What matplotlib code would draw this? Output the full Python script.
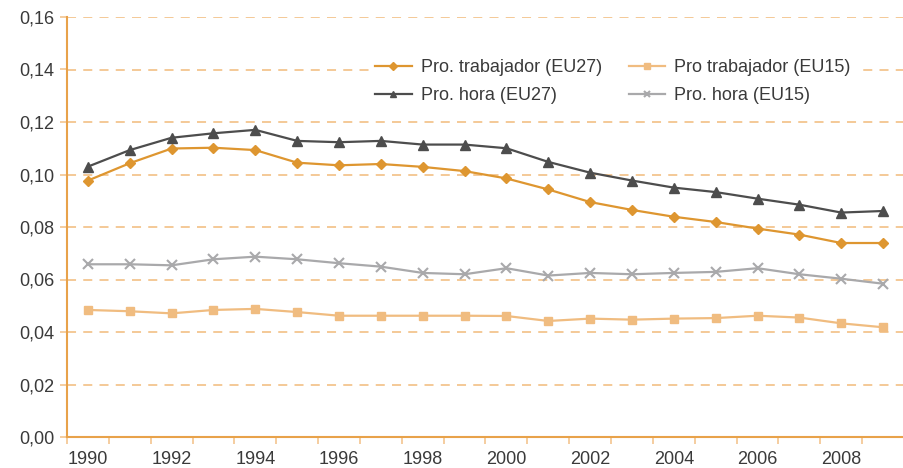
import numpy as np
import matplotlib
matplotlib.use('Agg')
import matplotlib.pyplot as plt
from matplotlib.ticker import FuncFormatter

plt.rcParams['font.family'] = ['Liberation Sans', 'DejaVu Sans']

years = list(range(1990, 2010))

trab_eu27 = [0.0977, 0.1043, 0.1099, 0.1102, 0.1093, 0.1045, 0.1035, 0.1040, 0.1029, 0.1013,
             0.0985, 0.0943, 0.0895, 0.0865, 0.0839, 0.0819, 0.0794, 0.0771, 0.0739, 0.0739]
trab_eu15 = [0.0484, 0.0479, 0.0471, 0.0484, 0.0488, 0.0476, 0.0462, 0.0462, 0.0462, 0.0462,
             0.0461, 0.0442, 0.0451, 0.0447, 0.0451, 0.0453, 0.0462, 0.0455, 0.0433, 0.0418]
hora_eu27 = [0.1030, 0.1093, 0.1140, 0.1157, 0.1170, 0.1128, 0.1123, 0.1128, 0.1114, 0.1114,
             0.1100, 0.1048, 0.1007, 0.0977, 0.0950, 0.0933, 0.0908, 0.0885, 0.0855, 0.0861]
hora_eu15 = [0.0658, 0.0658, 0.0654, 0.0677, 0.0687, 0.0677, 0.0662, 0.0649, 0.0625, 0.0620,
             0.0643, 0.0615, 0.0625, 0.0620, 0.0625, 0.0629, 0.0643, 0.0620, 0.0603, 0.0584]

axis_col = '#e8a24a'
grid_col = '#f3c58f'
text_col = '#3a3a3a'

fig = plt.figure(figsize=(9.04, 4.68), dpi=100)
ax = fig.add_axes([67 / 904, 1 - 437 / 468, 1 - 67 / 904, (437 - 17) / 468])

x = np.arange(len(years))
l1, = ax.plot(x, trab_eu27, color='#de9630', lw=1.6, marker='D', ms=5.5, label='Pro. trabajador (EU27)')
l2, = ax.plot(x, trab_eu15, color='#f0bc80', lw=1.6, marker='s', ms=6, label='Pro trabajador (EU15)')
l3, = ax.plot(x, hora_eu27, color='#4d4d4d', lw=1.6, marker='^', ms=7, label='Pro. hora (EU27)')
l4, = ax.plot(x, hora_eu15, color='#a9a9ab', lw=1.6, marker='x', ms=6.5, mew=1.5, label='Pro. hora (EU15)')

ax.set_xlim(-0.5, len(years) - 0.5)
ax.set_ylim(0, 0.16)
ax.set_yticks(np.arange(0, 0.161, 0.02))
ax.yaxis.set_major_formatter(FuncFormatter(lambda v, p: f'{v:.2f}'.replace('.', ',')))
ax.set_xticks(x[::2])
ax.set_xticklabels([str(y) for y in years[::2]])
ax.set_xticks(np.arange(-0.5, len(years), 1), minor=True)
ax.tick_params(axis='x', which='major', length=0, pad=10, labelsize=13, colors=text_col)
ax.tick_params(axis='x', which='minor', length=5, width=1.2, color=grid_col, direction='out')
ax.tick_params(axis='y', length=5, width=1.2, labelsize=13, colors=text_col, pad=4)
ax.tick_params(axis='y', color=grid_col)

for s in ['top', 'right']:
    ax.spines[s].set_visible(False)
for s in ['left', 'bottom']:
    ax.spines[s].set_color(axis_col)
    ax.spines[s].set_linewidth(1.5)

for v in np.arange(0.02, 0.161, 0.02):
    ax.axhline(v, color=grid_col, lw=1.3, ls=(0, (5, 4)), zorder=0)

leg = ax.legend(handles=[l1, l3, l2, l4], ncol=2, loc='upper left',
                bbox_to_anchor=(370 / 904, 1 - 54 / 468), bbox_transform=fig.transFigure,
                frameon=True, fontsize=13, handlelength=2.0, columnspacing=1.5,
                borderaxespad=0, labelspacing=0.6, handletextpad=0.5, borderpad=0.3)
leg.get_frame().set_edgecolor('white')
leg.get_frame().set_facecolor('white')
leg.get_frame().set_alpha(1)
leg.get_frame().set_boxstyle('square', pad=0)
for t in leg.get_texts():
    t.set_color(text_col)
for h in leg.legend_handles:
    h.set_markersize(4.5)

fig.savefig('out.png', dpi=100)
